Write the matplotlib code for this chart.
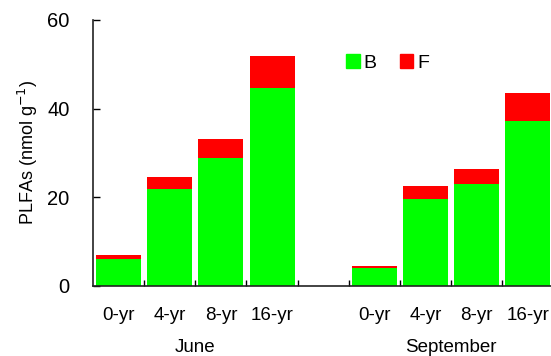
import numpy as np
import matplotlib
matplotlib.use("Agg")
import matplotlib.pyplot as plt
from matplotlib.patches import Patch

plt.rcParams['font.family'] = ['Liberation Sans', 'DejaVu Sans']

# data
ages = ["0-yr", "4-yr", "8-yr", "16-yr"]
months = ["June", "September"]
june_B = [6.1, 21.8, 28.8, 44.6]
june_F = [0.8, 2.7, 4.3, 7.3]
sept_B = [4.1, 19.7, 22.9, 37.3]
sept_F = [0.3, 2.9, 3.4, 6.2]

B = june_B + sept_B
F = june_F + sept_F
x = np.array([0, 1, 2, 3, 5, 6, 7, 8])
labels = ages + ages

fig = plt.figure(figsize=(5.51, 3.56), dpi=100)
ax = fig.add_axes([0.169, 0.197, 0.835, 0.747])

green = "#00ff00"
red = "#ff0000"
w = 0.88
ax.bar(x, B, width=w, color=green, edgecolor="none")
ax.bar(x, F, width=w, bottom=B, color=red, edgecolor="none")

ax.set_xlim(-0.5, 8.5)
ax.set_ylim(0, 60)
ax.set_yticks([0, 20, 40, 60])
ax.tick_params(axis="y", direction="in", length=5, width=1, labelsize=14.5, pad=17)
ax.set_xticks(np.arange(0.5, 8, 1))
ax.set_xticklabels([])
ax.tick_params(axis="x", direction="in", length=4, width=1)

for s in ["top", "right"]:
    ax.spines[s].set_visible(False)
for s in ["left", "bottom"]:
    ax.spines[s].set_linewidth(1.2)
    ax.spines[s].set_color("#222222")

trans = ax.get_xaxis_transform()
for xi, lab in zip(x, labels):
    ax.text(xi, -0.11, lab, transform=trans, ha="center", va="center", fontsize=13.5)
ax.text(1.5, -0.23, months[0], transform=trans, ha="center", va="center", fontsize=13.5)
ax.text(6.5, -0.23, months[1], transform=trans, ha="center", va="center", fontsize=13.5)

ax.set_ylabel("PLFAs (nmol g$^{-1}$)", fontsize=13, labelpad=5)

handles = [Patch(color=green, label="B"), Patch(color=red, label="F")]
ax.legend(handles=handles, loc="center", bbox_to_anchor=(0.64, 0.838), ncol=2, frameon=False,
          fontsize=14, handlelength=0.7, handleheight=0.7, handletextpad=0.2, columnspacing=1.2)

fig.savefig("out.png", dpi=100)
